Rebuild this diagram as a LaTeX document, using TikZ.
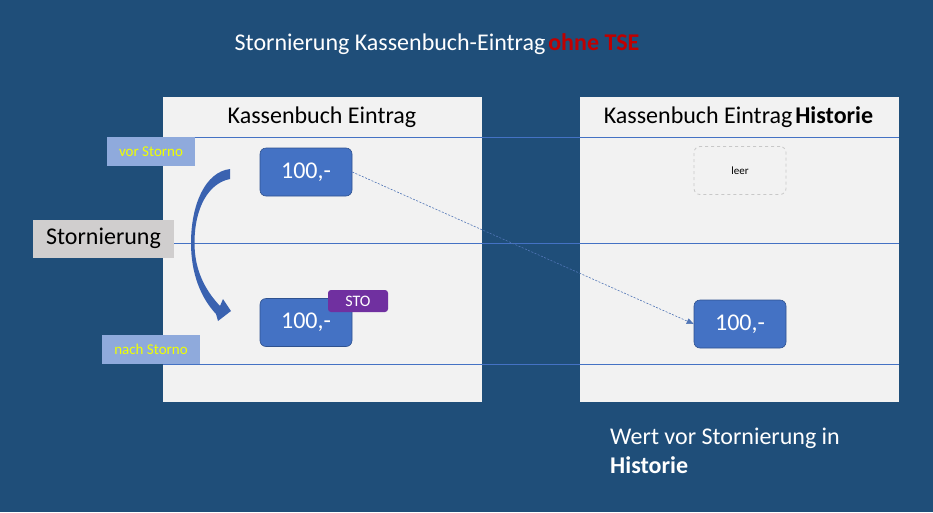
\documentclass[tikz,border=0pt]{standalone}
\usepackage{fontspec}
\setmainfont{Carlito}
\usetikzlibrary{arrows.meta}
\definecolor{bg}{HTML}{1F4E79}
\definecolor{panelc}{HTML}{F2F2F2}
\definecolor{lineblue}{HTML}{4472C4}
\definecolor{boxblue}{HTML}{4472C4}
\definecolor{boxborder}{HTML}{2F528F}
\definecolor{stoc}{HTML}{7030A0}
\definecolor{lblblue}{HTML}{8FAADC}
\definecolor{lblyellow}{HTML}{F0FF00}
\definecolor{graybox}{HTML}{D0CECE}
\definecolor{redc}{HTML}{C00000}
\definecolor{arrowc}{HTML}{3A62B0}
\definecolor{dashgray}{HTML}{C8C8C8}
\begin{document}
\begin{tikzpicture}[x=1pt,y=-1pt,
  panel/.style={fill=panelc,inner sep=0pt,minimum width=319pt,minimum height=305pt},
  hline/.style={draw=lineblue,line width=0.8pt},
  valbox/.style={fill=boxblue,draw=boxborder,line width=0.6pt,rounded corners=6pt,
    minimum width=92pt,minimum height=48pt,inner sep=0pt,text=white,
    font=\fontsize{24}{28}\selectfont},
  leerbox/.style={draw=dashgray,dashed,line width=0.8pt,rounded corners=6pt,
    minimum width=92pt,minimum height=48pt,inner sep=0pt,
    font=\fontsize{11}{13}\selectfont},
  stobox/.style={fill=stoc,rounded corners=3pt,minimum width=60pt,minimum height=22pt,
    inner sep=0pt,text=white,font=\fontsize{16}{18}\selectfont},
  lblbox/.style={fill=lblblue,inner sep=0pt,minimum height=29pt,text=lblyellow,
    font=\fontsize{15}{17}\selectfont},
  header/.style={font=\fontsize{24}{28}\selectfont,text=black,inner sep=0pt},
  whitetext/.style={font=\fontsize{24}{29}\selectfont,text=white,inner sep=0pt}
]
\fill[bg] (0,0) rectangle (933,512);
\useasboundingbox (0,0) rectangle (933,512);

% panels
\node[panel] (lp) at (322.5,249.5) {};
\node[panel] (rp) at (739.5,249.5) {};

% horizontal lines
\coordinate (l1a) at (163,137); \coordinate (l1b) at (899,137);
\coordinate (l2a) at (163,243); \coordinate (l2b) at (899,243);
\coordinate (l3a) at (163,364); \coordinate (l3b) at (899,364);
\draw[hline] (l1a) -- (l1b);
\draw[hline] (l2a) -- (l2b);
\draw[hline] (l3a) -- (l3b);

% title
\node[whitetext] (title) at (437,44.5) {Stornierung Kassenbuch-Eintrag\hspace{0.12em}\textcolor{redc}{\textbf{ohne TSE}}};

% headers
\node[header] (lh) at (322,117.5) {Kassenbuch Eintrag};
\node[header] (rh) at (738.5,117.5) {Kassenbuch Eintrag\hspace{0.12em}\textbf{Historie}};

% labels
\node[lblbox,minimum width=88pt] (vor) at (151,151.5) {vor Storno};
\node[lblbox,minimum width=98pt] (nach) at (151,349.5) {nach Storno};
\node[fill=graybox,inner sep=0pt,minimum width=141pt,minimum height=38pt,
  font=\fontsize{24}{28}\selectfont] (storn) at (103.5,238.5) {Stornierung};

% value boxes
\node[valbox] (top) at (306,172) {100,-};
\node[valbox] (bot) at (306,322.5) {100,-};
\node[stobox] (sto) at (358,301) {STO};
\node[leerbox] (leer) at (740,170.5) {leer};
\node[valbox] (hist) at (740,324) {100,-};

% dashed connector
\draw[lineblue!80!gray,line width=0.6pt,dash pattern=on 2pt off 1.5pt,
  -{Triangle[length=7pt,width=6pt]}] (top.east) -- (hist.west);

% curved block arrow
\fill[arrowc]
  (230,169) .. controls (205,172) and (191,205) .. (191,243)
  .. controls (191,274) and (201,298) .. (216,314)
  -- (218,321) -- (231,311) -- (223,299) -- (220,306)
  .. controls (205,290) and (194.5,270) .. (194.5,243)
  .. controls (194.5,207) and (209,183) .. (230,179) -- cycle;

% bottom text
\node[whitetext,anchor=north west,align=left] (wert) at (610,428)
  {Wert vor Stornierung in\\\textbf{Historie}};
\end{tikzpicture}
\end{document}
